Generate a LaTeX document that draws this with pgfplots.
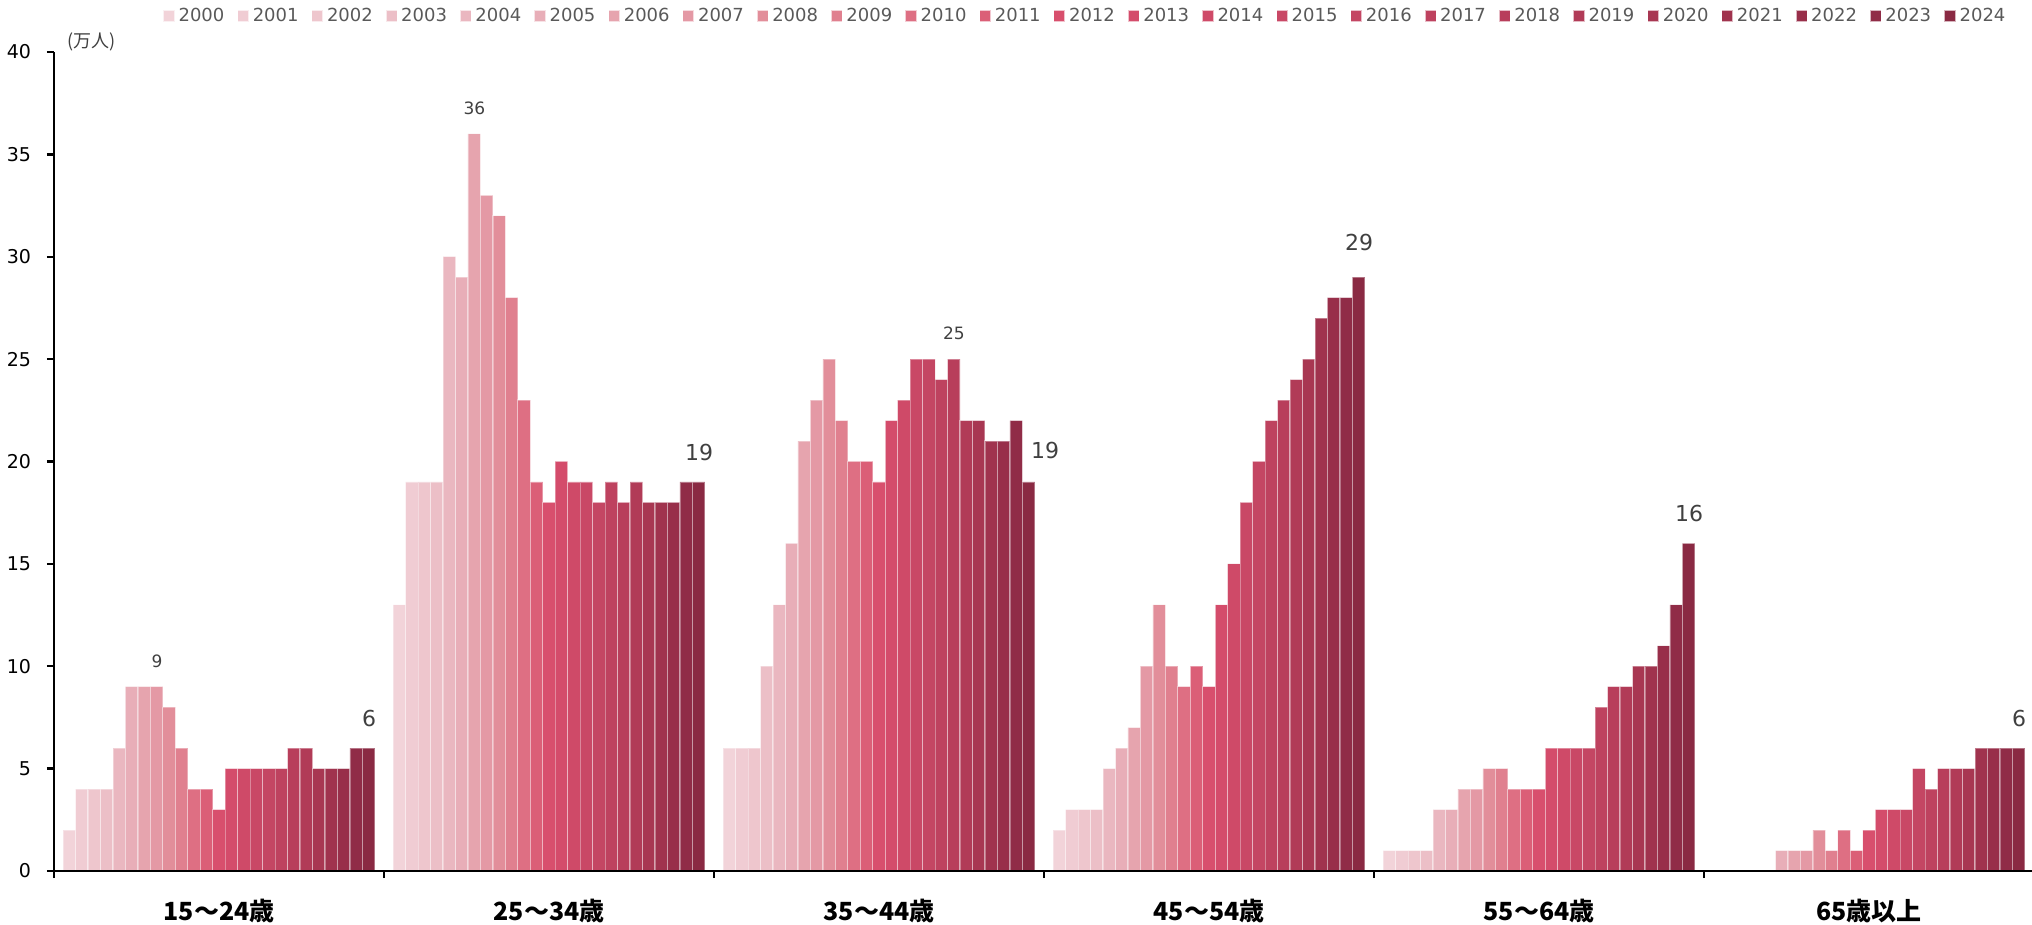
\documentclass[border=0pt]{standalone}
\usepackage{fontspec}
\setmainfont{DejaVu Sans}
\newfontfamily\jp{Noto Sans CJK JP}
\usepackage{pgfplots}
\usepackage{pgfplotstable}
\pgfplotsset{compat=1.18}

\definecolor{c2000}{HTML}{F2D3D9}
\definecolor{c2001}{HTML}{F0CCD3}
\definecolor{c2002}{HTML}{EEC6CD}
\definecolor{c2003}{HTML}{ECBFC7}
\definecolor{c2004}{HTML}{EAB7C0}
\definecolor{c2005}{HTML}{E8AEB8}
\definecolor{c2006}{HTML}{E6A4AE}
\definecolor{c2007}{HTML}{E499A5}
\definecolor{c2008}{HTML}{E28E9A}
\definecolor{c2009}{HTML}{E0808F}
\definecolor{c2010}{HTML}{DE6F83}
\definecolor{c2011}{HTML}{DB5F77}
\definecolor{c2012}{HTML}{D84F6D}
\definecolor{c2013}{HTML}{D44C6B}
\definecolor{c2014}{HTML}{CF4A68}
\definecolor{c2015}{HTML}{C94866}
\definecolor{c2016}{HTML}{C44663}
\definecolor{c2017}{HTML}{BE425F}
\definecolor{c2018}{HTML}{B83E5B}
\definecolor{c2019}{HTML}{B13B57}
\definecolor{c2020}{HTML}{A83752}
\definecolor{c2021}{HTML}{A0334E}
\definecolor{c2022}{HTML}{982F4A}
\definecolor{c2023}{HTML}{902C47}
\definecolor{c2024}{HTML}{8A2A43}
\definecolor{leggray}{HTML}{595959}
\definecolor{labgray}{HTML}{404040}

% rows = age groups (15-24, 25-34, 35-44, 45-54, 55-64, 65+)
\pgfplotstableread{
x   y2000 y2001 y2002 y2003 y2004 y2005 y2006 y2007 y2008 y2009 y2010 y2011 y2012 y2013 y2014 y2015 y2016 y2017 y2018 y2019 y2020 y2021 y2022 y2023 y2024
0.5 2     4     4     4     6     9     9     9     8     6     4     4     3     5     5     5     5     5     6     6     5     5     5     6     6
1.5 13    19    19    19    30    29    36    33    32    28    23    19    18    20    19    19    18    19    18    19    18    18    18    19    19
2.5 6     6     6     10    13    16    21    23    25    22    20    20    19    22    23    25    25    24    25    22    22    21    21    22    19
3.5 2     3     3     3     5     6     7     10    13    10    9     10    9     13    15    18    20    22    23    24    25    27    28    28    29
4.5 1     1     1     1     3     3     4     4     5     5     4     4     4     6     6     6     6     8     9     9     10    10    11    13    16
5.5 0     0     0     0     0     1     1     1     2     1     2     1     2     3     3     3     5     4     5     5     5     6     6     6     6
}\data

\begin{document}
\begin{tikzpicture}
\begin{axis}[
  name=ax,
  scale only axis,
  width=989pt, height=409.5pt,
  xmin=0, xmax=5.9939, ymin=0, ymax=40,
  enlargelimits=false,
  clip=false,
  axis on top,
  axis x line*=bottom, axis y line*=left,
  axis line style={-, line width=1.2pt, black},
  ybar, bar width=0.03778,
  ytick={0,5,...,40},
  tick align=outside,
  major tick length=3.5pt,
  tick style={line width=1.2pt, black},
  /pgf/number format/assume math mode=true,
  yticklabel style={font=\fontsize{9.5}{10}\selectfont, text=black, xshift=-4.5pt},
  xtick={0.5,1.5,2.5,3.5,4.5,5.5},
  xticklabels={15～24歳,25～34歳,35～44歳,45～54歳,55～64歳,65歳以上},
  xtick style={draw=none},
  xticklabel style={font=\jp\bfseries\fontsize{12.5}{14}\selectfont, text=black, anchor=center, yshift=-16.5pt},
  extra x ticks={0,1,2,3,4,5},
  extra x tick labels={},
  extra x tick style={xtick style={draw=black, line width=1.2pt}},
  legend columns=-1,
  legend style={at={(axis description cs:0.0551,1.044)}, anchor=west, draw=none, fill=none,
    font=\fontsize{9}{10}\selectfont, text=leggray, inner sep=0pt,
    /tikz/every even column/.append style={column sep=4.6pt}},
  legend cell align=left,
]
\pgfplotsinvokeforeach{2000,2001,2002,2003,2004,2005,2006,2007,2008,2009,2010,2011,2012,2013,2014,2015,2016,2017,2018,2019,2020,2021,2022,2023,2024}{
  \addplot[fill=c#1, draw=white, draw opacity=0.35, line width=0.6pt, bar shift=0pt,
    legend image code/.code={\fill[c#1] (0pt,-2.5pt) rectangle (5pt,2.5pt);}]
    table[x expr=\thisrow{x}+(#1-2012)*0.03778, y=y#1] {\data};
  \addlegendentry{#1}
}
\node[font=\fontsize{8.5}{10}\selectfont, text=labgray] at (axis cs:0.312,10.26) {9};
\node[font=\fontsize{8.5}{10}\selectfont, text=labgray] at (axis cs:1.274,37.26) {36};
\node[font=\fontsize{8.5}{10}\selectfont, text=labgray] at (axis cs:2.727,26.28) {25};
\node[font=\fontsize{11}{12}\selectfont, text=labgray] at (axis cs:0.955,7.47) {6};
\node[font=\fontsize{11}{12}\selectfont, text=labgray] at (axis cs:1.955,20.46) {19};
\node[font=\fontsize{11}{12}\selectfont, text=labgray] at (axis cs:3.003,20.56) {19};
\node[font=\fontsize{11}{12}\selectfont, text=labgray] at (axis cs:3.955,30.72) {29};
\node[font=\fontsize{11}{12}\selectfont, text=labgray] at (axis cs:4.955,17.48) {16};
\node[font=\fontsize{11}{12}\selectfont, text=labgray] at (axis cs:5.955,7.47) {6};
\node[font=\jp\fontsize{9}{10}\selectfont, text=labgray] at (axis cs:0.115,40.49) {(万人)};
\coordinate (O) at (axis cs:0,0);
\end{axis}
\pgfresetboundingbox
\path (O) ++(-27pt,-27pt) rectangle ++(1016pt,462.5pt);
\end{tikzpicture}
\end{document}
